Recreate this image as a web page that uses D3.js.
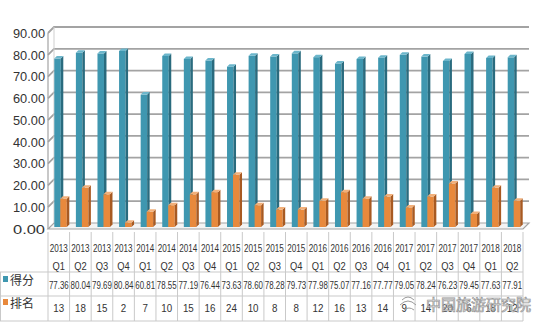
<!DOCTYPE html>
<html><head><meta charset="utf-8">
<script src="https://cdn.jsdelivr.net/npm/d3@7"></script>
<style>
html,body{margin:0;padding:0;background:#fff;}
svg{display:block;}
text{font-family:"Liberation Sans",Arial,sans-serif;fill:#333;}
</style></head><body>
<svg id="c" width="536" height="328"></svg>
<script>
const years = ["2013","2013","2013","2013","2014","2014","2014","2014","2015","2015","2015","2015","2016","2016","2016","2016","2017","2017","2017","2017","2018","2018"];
const quarters = ["Q1","Q2","Q3","Q4","Q1","Q2","Q3","Q4","Q1","Q2","Q3","Q4","Q1","Q2","Q3","Q4","Q1","Q2","Q3","Q4","Q1","Q2"];
const scores = [77.36,80.04,79.69,80.84,60.81,78.55,77.19,76.44,73.63,78.60,78.28,79.73,77.98,75.07,77.16,77.77,79.05,78.24,76.23,79.45,77.63,77.91];
const ranks = [13,18,15,2,7,10,15,16,24,10,8,8,12,16,13,14,9,14,20,6,18,12];
const seriesNames = ["得分","排名"];
const yTicks = [0,10,20,30,40,50,60,70,80,90];

const svg = d3.select("#c");
const cats = years.map((y,i)=>y+" "+quarters[i]);
const x = d3.scaleBand().domain(cats).range([48,523]).paddingInner(0).paddingOuter(0);
const y = d3.scaleLinear().domain([0,90]).range([229,33]);
const dx = 6, dy = -6;
const gridColor = "#a3a3a3";

const g = svg.append("g");
g.append("path")
  .attr("d", `M48,${y(0)} L${523},${y(0)} L${523+dx},${y(0)+dy} L${48+dx},${y(0)+dy} Z`)
  .attr("fill","#f4f4f4").attr("stroke",gridColor).attr("stroke-width",1.2);

yTicks.forEach(t=>{
  if(t===0) return;
  g.append("path")
    .attr("d",`M48,${y(t)} L${48+dx},${y(t)+dy} L${523+dx},${y(t)+dy}`)
    .attr("fill","none").attr("stroke",gridColor).attr("stroke-width",1.8);
});
g.append("line").attr("x1",48).attr("x2",48).attr("y1",y(90)).attr("y2",y(0))
  .attr("stroke",gridColor).attr("stroke-width",1.2);
g.append("line").attr("x1",48+dx).attr("x2",48+dx).attr("y1",y(90)+dy).attr("y2",y(0)+dy)
  .attr("stroke","#cfcfcf").attr("stroke-width",1);

const yAxis = d3.axisLeft(y).tickValues(yTicks).tickFormat(d3.format(".2f")).tickSize(0).tickPadding(0);
const ya = svg.append("g").attr("transform","translate(45,0)").call(yAxis);
ya.select(".domain").remove();
ya.selectAll("text").style("font-size","13.5px").style("fill","#333")
  .attr("textLength",32).attr("lengthAdjust","spacingAndGlyphs")
  .style("font-family",'"Liberation Sans",Arial,sans-serif');

const depth = 2.5;
function bar3d(sel, x0, w, v, front, side, top){
  const yb = y(0)-2, yt = y(v)-2;
  sel.append("rect").attr("x",x0).attr("y",yt).attr("width",w).attr("height",yb-yt).attr("fill",front);
  sel.append("path").attr("d",`M${x0+w},${yt} L${x0+w+depth},${yt-depth} L${x0+w+depth},${yb-depth} L${x0+w},${yb} Z`).attr("fill",side);
  sel.append("path").attr("d",`M${x0},${yt} L${x0+depth},${yt-depth} L${x0+w+depth},${yt-depth} L${x0+w},${yt} Z`).attr("fill",top);
}
const bars = svg.append("g");
cats.forEach((c,i)=>{
  const cx = x(c)+x.bandwidth()/2;
  bar3d(bars, cx-4.5, 6.5, scores[i], "#3f97b0", "#2a6b7e", "#6cb6cb");
  bar3d(bars, cx+1.5, 6.5, ranks[i], "#e8893c", "#a85a22", "#f2b07a");
});

const rowTop = 232, r1 = 272, r2 = 296, r3 = 321;
const tg = svg.append("g");
const lineC = "#c9c9c9";
cats.forEach((c,i)=>{
  tg.append("line").attr("x1",x(c)).attr("x2",x(c)).attr("y1",rowTop).attr("y2",r3).attr("stroke",lineC);
});
tg.append("line").attr("x1",523).attr("x2",523).attr("y1",rowTop).attr("y2",r3).attr("stroke",lineC);
tg.append("line").attr("x1",0.5).attr("x2",0.5).attr("y1",r1).attr("y2",r3).attr("stroke",lineC);
[r1,r2,r3].forEach(r=>tg.append("line").attr("x1",0).attr("x2",523).attr("y1",r).attr("y2",r).attr("stroke",lineC));

function cell(cx, yy, txt, fs, sx){
  tg.append("g").attr("transform",`translate(${cx},${yy}) scale(${sx},1)`)
    .append("text").attr("text-anchor","middle").style("font-size",fs+"px").text(txt);
}
cats.forEach((c,i)=>{
  const cx = x(c)+x.bandwidth()/2;
  cell(cx, 252, years[i], 11, 0.74);
  cell(cx, 270, quarters[i], 11, 0.85);
  cell(cx, 289, scores[i].toFixed(2), 11, 0.72);
  cell(cx, 312, String(ranks[i]), 11.5, 0.85);
});
const keyColors = ["#3f97b0","#e8893c"];
[284,307].forEach((p,k)=>{
  tg.append("rect").attr("x",3).attr("y",p-8).attr("width",5).attr("height",6).attr("fill",keyColors[k]);
  tg.append("text").attr("x",10).attr("y",p+1).style("font-size","12px")
    .style("font-family",'"Noto Sans CJK SC",sans-serif').style("fill","#333").text(seriesNames[k]);
});

const wm = svg.append("g");
wm.append("text").attr("x",426).attr("y",310).style("font-size","15px")
  .style("font-family",'"Noto Sans CJK SC",sans-serif')
  .style("fill","#f2f2f2").style("stroke","#8a8a8a").style("stroke-width","0.7px")
  .style("opacity",0.9).text("中国旅游研究院");
wm.append("path").attr("d","M402,300 q6,-6 12,0 M400,305 q8,-8 16,0 M404,310 q5,-4 10,0")
  .attr("fill","none").attr("stroke","#9a9a9a").attr("stroke-width",1);
</script>
</body></html>
